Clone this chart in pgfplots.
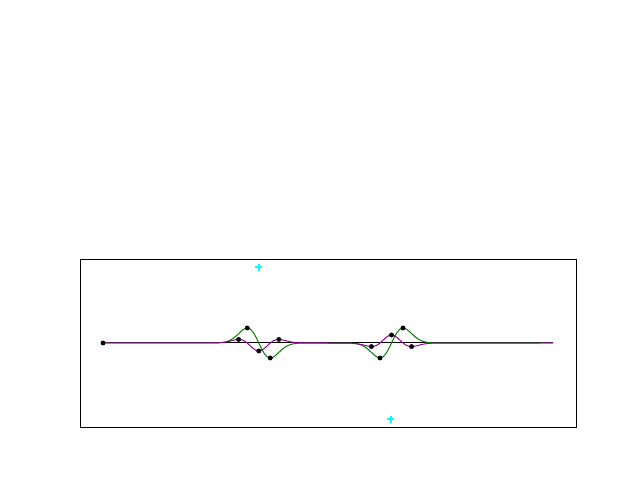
\documentclass[border=0pt]{standalone}
\usepackage{pgfplots}
\pgfplotsset{compat=1.18}
\definecolor{mplgreen}{rgb}{0,0.5,0}
\definecolor{mplmag}{rgb}{0.6,0,0.6}
\definecolor{mplcyan}{rgb}{0,1,1}
\begin{document}
\begin{tikzpicture}[x=1bp,y=1bp]
\path (0,0) rectangle (640,480);
\begin{axis}[
  at={(80bp,53bp)}, anchor=south west,
  scale only axis, width=496bp, height=168bp,
  xmin=80, xmax=576, ymin=-84, ymax=84,
  xtick=\empty, ytick=\empty,
  axis line style={line width=0.8bp},
  clip=false,
]
% baseline
\addplot[black, line width=1bp] coordinates {(103,0) (553,0)};
% green curve
\addplot[mplgreen, line width=1bp] coordinates {
(103,0) (212.75,0.033) (218.5,0.190) (224.25,0.824) (227.125,1.550) (230,2.717) (232.875,4.427)
(235.75,6.694) (238.625,9.360) (241.5,12.043) (244.375,14.153) (247.25,15.000) (250.125,14.000)
(253,10.912) (255.875,5.992) (258.75,0) (261.625,-5.992) (264.5,-10.912) (267.375,-14.000)
(270.25,-15.000) (273.125,-14.153) (276,-12.043) (278.875,-9.360) (281.75,-6.694) (284.625,-4.427)
(287.5,-2.717) (290.375,-1.550) (293.25,-0.824) (299,-0.190) (304.75,-0.033)
(345.5,-0.033) (351.25,-0.190) (357,-0.824) (359.875,-1.550) (362.75,-2.717) (365.625,-4.427)
(368.5,-6.694) (371.375,-9.360) (374.25,-12.043) (377.125,-14.153) (380,-15.000) (382.875,-14.000)
(385.75,-10.912) (388.625,-5.992) (391.5,0) (394.375,5.992) (397.25,10.912) (400.125,14.000)
(403,15.000) (405.875,14.153) (408.75,12.043) (411.625,9.360) (414.5,6.694) (417.375,4.427)
(420.25,2.717) (423.125,1.550) (426,0.824) (431.75,0.190) (437.5,0.033) (553,0)
};
% magenta curve
\addplot[mplmag, line width=1bp] coordinates {
(103,0) (212.75,0.040) (218.5,0.197) (224.25,0.711) (227.125,1.196) (230,1.845) (232.875,2.586)
(235.75,3.248) (238.625,3.568) (241.5,3.247) (244.375,2.060) (247.25,0) (250.125,-2.642)
(253,-5.295) (255.875,-7.269) (258.75,-8.000) (261.625,-7.269) (264.5,-5.295) (267.375,-2.642)
(270.25,0) (273.125,2.060) (276,3.247) (278.875,3.568) (281.75,3.248) (284.625,2.586)
(287.5,1.845) (290.375,1.196) (293.25,0.711) (299,0.197) (304.75,0.040)
(345.5,-0.040) (351.25,-0.197) (357,-0.711) (359.875,-1.196) (362.75,-1.845) (365.625,-2.586)
(368.5,-3.248) (371.375,-3.568) (374.25,-3.247) (377.125,-2.060) (380,0) (382.875,2.642)
(385.75,5.295) (388.625,7.269) (391.5,8.000) (394.375,7.269) (397.25,5.295) (400.125,2.642)
(403,0) (405.875,-2.060) (408.75,-3.247) (411.625,-3.568) (414.5,-3.248) (417.375,-2.586)
(420.25,-1.845) (423.125,-1.196) (426,-0.711) (431.75,-0.197) (437.5,-0.040) (553,0)
};
% black dots
\addplot[only marks, mark=*, mark size=2.2bp, black] coordinates {
(103,0) (247.25,15) (270.25,-15) (238.6,3.57) (258.75,-8) (278.9,3.57)
(380,-15) (403,15) (371.4,-3.57) (391.5,8) (411.6,-3.57)
};
% cyan plus markers
\addplot[only marks, mark=+, mark size=3.5bp, color=mplcyan, line width=2.2bp] coordinates {
(258.7,75.7) (390.7,-76.3)
};
\end{axis}
\end{tikzpicture}
\end{document}
